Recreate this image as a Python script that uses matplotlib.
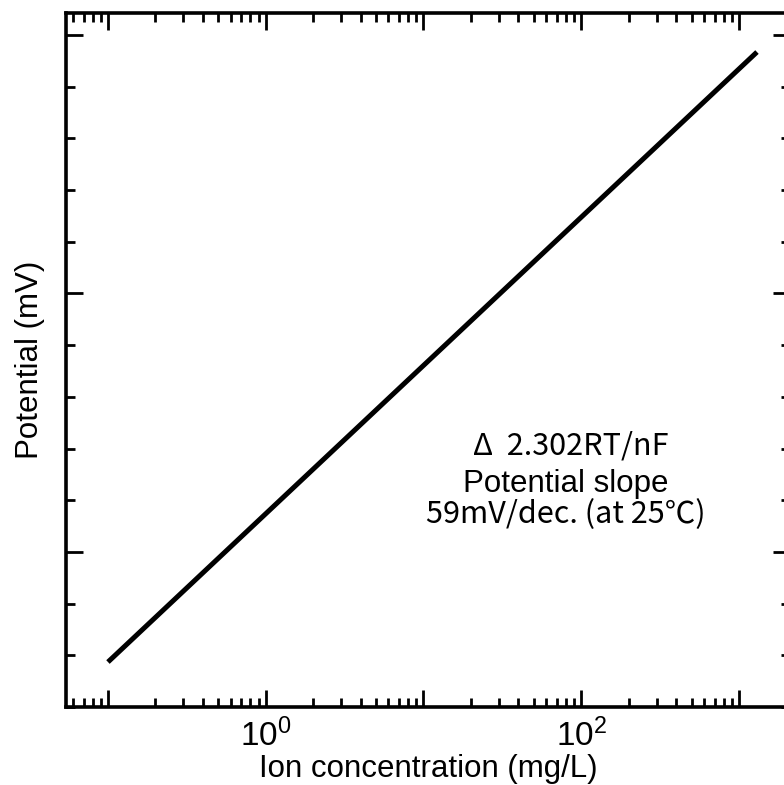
import matplotlib.pyplot as plt
from matplotlib.ticker import FixedLocator, FixedFormatter, LogLocator, MultipleLocator, NullFormatter

plt.rcParams['font.family'] = ['Liberation Sans', 'DejaVu Sans']
plt.rcParams['mathtext.fontset'] = 'custom'
plt.rcParams['mathtext.rm'] = 'Liberation Sans'
plt.rcParams['mathtext.it'] = 'Liberation Sans'

# data
conc = [0.1, 1300]           # mg/L
potential = [-42.6, 193.4]   # mV (axis has no numbers, arbitrary origin)
xticks_major = [0.1, 1, 10, 100, 1000]
xtick_labels = ['', r'$10^0$', '', r'$10^2$', '']
note_lines = ['\u0394  2.302RT/nF', 'Potential slope', '59mV/dec. (at 25\u2103)']

fig = plt.figure(figsize=(7.84, 7.85), dpi=100)
ax = fig.add_axes([66/784, 78/785, (790-66)/784, (707-13)/785])

ax.plot(conc, potential, color='black', lw=3.6, solid_capstyle='butt')

ax.set_xscale('log')
ax.set_xlim(0.0542, 2105)
ax.set_ylim(-60, 208.5)

ax.xaxis.set_major_locator(FixedLocator(xticks_major))
ax.xaxis.set_major_formatter(FixedFormatter(xtick_labels))
ax.xaxis.set_minor_locator(LogLocator(base=10, subs=range(2, 10), numticks=20))
ax.xaxis.set_minor_formatter(NullFormatter())
ax.yaxis.set_major_locator(MultipleLocator(100))
ax.yaxis.set_minor_locator(MultipleLocator(20))
ax.yaxis.set_major_formatter(NullFormatter())

ax.tick_params(which='both', direction='in', top=True, right=True, width=2.0, color='black')
ax.tick_params(which='major', length=12, labelsize=24, pad=8)
ax.tick_params(which='minor', length=6.5)

for s in ax.spines.values():
    s.set_linewidth(2.6)

ax.set_xlabel('Ion concentration (mg/L)', fontsize=22.5, labelpad=1)
ax.set_ylabel('Potential (mV)', fontsize=22.5, labelpad=7)

jp = ['Noto Sans CJK JP', 'DejaVu Sans']
ax.text(0.697, 0.376, note_lines[0], transform=ax.transAxes, ha='center', va='center',
        fontsize=22, family=jp)
ax.text(0.6906, 0.321, note_lines[1], transform=ax.transAxes, ha='center', va='center',
        fontsize=22.5)
ax.text(0.6906, 0.277, note_lines[2], transform=ax.transAxes, ha='center', va='center',
        fontsize=22, family=jp)

fig.savefig('out.png', dpi=100)
